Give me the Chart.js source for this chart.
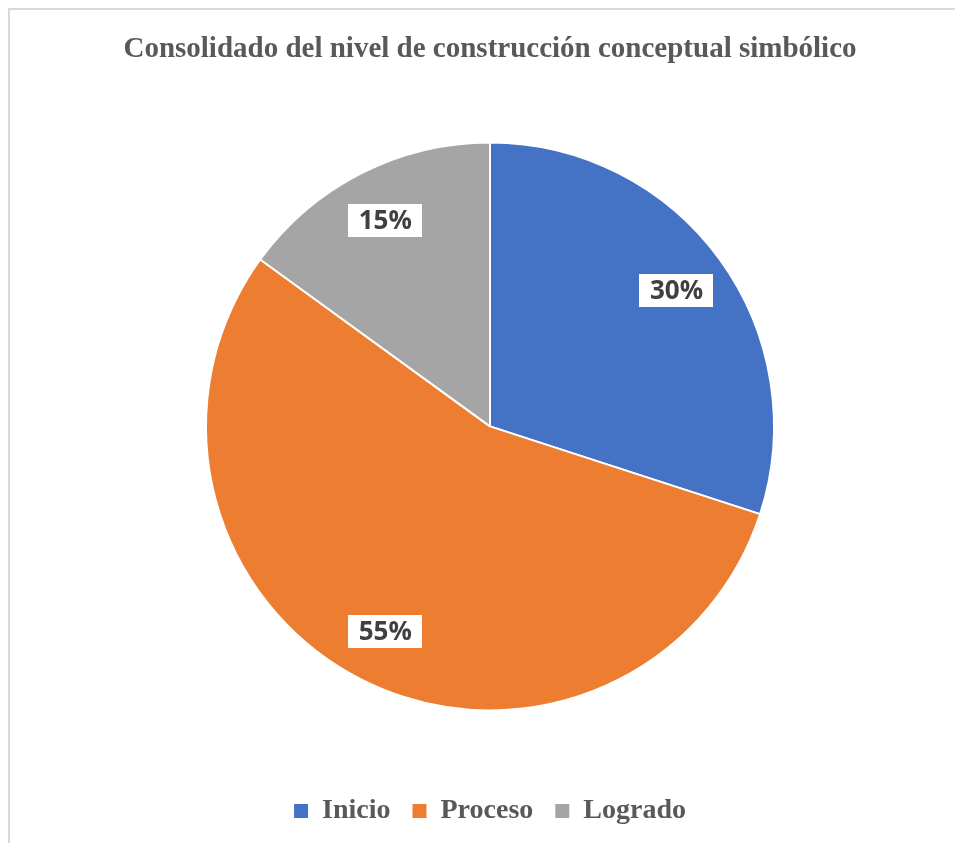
<!DOCTYPE html>
<html lang="es">
<head>
<meta charset="utf-8">
<title>Consolidado del nivel de construcción conceptual simbólico</title>
<script src="https://cdn.jsdelivr.net/npm/chart.js@4/dist/chart.umd.min.js"></script>
<style>
	html, body {
		margin: 0;
		padding: 0;
		background: #ffffff;
		overflow: hidden;
	}
	#frame {
		position: absolute;
		left: 8px;
		top: 8px;
		width: 1000px;
		height: 900px;
		border-left: 2px solid #d9d9d9;
		border-top: 2px solid #d9d9d9;
	}
	#chart {
		position: absolute;
		left: 0;
		top: 0;
	}
</style>
</head>
<body>
<div id="frame"></div>
<canvas id="chart" width="955" height="843"></canvas>

<script>
const chartTitle = "Consolidado del nivel de construcción conceptual simbólico";
const categories = ["Inicio", "Proceso", "Logrado"];
const percentages = [30, 55, 15];
const sliceColors = ["#4472C4", "#ED7D31", "#A5A5A5"];

// Draws the percentage of each slice inside a white box
const sliceLabels = {
	id: "sliceLabels",
	afterDatasetsDraw(chart) {
		const ctx = chart.ctx;
		const meta = chart.getDatasetMeta(0);
		ctx.save();
		ctx.font = "bold 26px 'Open Sans', sans-serif";
		ctx.textAlign = "center";
		ctx.textBaseline = "middle";
		meta.data.forEach((arc, i) => {
			const props = arc.getProps(["x", "y", "startAngle", "endAngle", "outerRadius"], true);
			const mid = (props.startAngle + props.endAngle) / 2;
			const r = props.outerRadius * 0.812;
			const cx = props.x + Math.cos(mid) * r;
			const cy = props.y + Math.sin(mid) * r;
			const text = chart.data.datasets[0].data[i] + "%";
			const w = ctx.measureText(text).width + 21;
			const h = 33;
			ctx.fillStyle = "#ffffff";
			ctx.fillRect(Math.round(cx - w / 2), Math.round(cy - h / 2), Math.round(w), h);
			ctx.fillStyle = "#404040";
			ctx.fillText(text, cx, cy + 1);
		});
		ctx.restore();
	}
};

// Legend squares without the white slice border
function legendLabels(chart) {
	const items = Chart.overrides.pie.plugins.legend.labels.generateLabels(chart);
	items.forEach(item => {
		item.lineWidth = 0;
		item.strokeStyle = item.fillStyle;
	});
	return items;
}

window.addEventListener("load", e => {
	const ctx = document.getElementById("chart").getContext("2d");
	new Chart(ctx, {
		type: "pie",
		data: {
			labels: categories,
			datasets: [
				{
					data: percentages,
					backgroundColor: sliceColors,
					borderColor: "#ffffff",
					borderWidth: 2,
				},
			],
		},
		options: {
			responsive: false,
			animation: false,
			radius: 284,
			layout: {
				padding: { left: 25, right: 0, top: 0, bottom: 8 },
			},
			plugins: {
				title: {
					display: true,
					text: chartTitle,
					color: "#595959",
					font: { family: "'Liberation Serif', 'Times New Roman', serif", size: 29, weight: "bold", lineHeight: 1.2 },
					padding: { top: 32, bottom: 11 },
				},
				legend: {
					display: true,
					position: "bottom",
					labels: {
						color: "#595959",
						boxWidth: 14,
						boxHeight: 14,
						padding: 22,
						font: { family: "'Liberation Serif', 'Times New Roman', serif", size: 28, weight: "bold" },
						generateLabels: legendLabels,
					},
				},
				tooltip: { enabled: false },
			},
		},
		plugins: [sliceLabels],
	});
});
</script>
</body>
</html>
